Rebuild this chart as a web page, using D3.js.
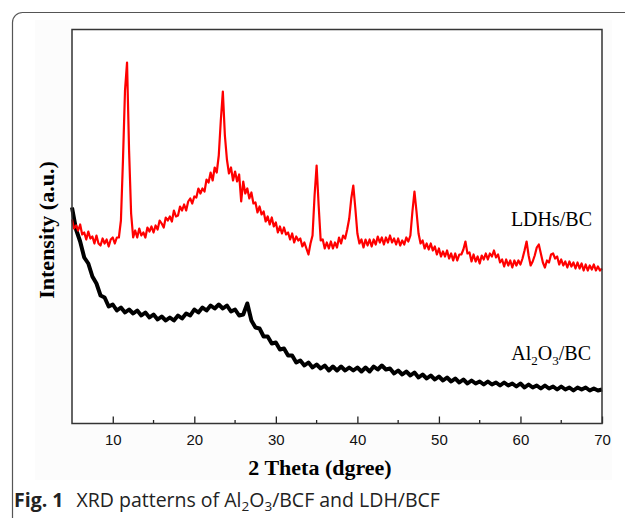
<!DOCTYPE html>
<html>
<head>
<meta charset="utf-8">
<script src="https://cdn.jsdelivr.net/npm/d3@7"></script>
<style>
  body { margin: 0; background: #fff; }
  svg { display: block; }
</style>
</head>
<body>
<div class="canvas"></div>
<script>
// scan grids (2 theta, degrees)
const ldhStart = 5;
const ldhStep = 0.25;
const alStart = 5;
const alStep = 0.5;

// LDHs/BC intensity (a.u.), one value every 0.25 deg from 5 to 70
const ldhIntensity = [
  204, 195, 198, 193, 199, 189, 191, 184, 192, 185, 187, 180, 188, 180, 178, 185,
  180, 184, 177, 184, 186, 180, 186, 186, 203, 263, 333, 361, 273, 210, 186, 193,
  186, 195, 188, 191, 186, 196, 192, 197, 191, 198, 194, 203, 200, 196, 206, 203,
  207, 202, 213, 207, 208, 217, 213, 219, 213, 222, 225, 220, 227, 226, 235, 230,
  235, 232, 244, 241, 251, 243, 256, 251, 268, 303, 332, 288, 264, 250, 256, 243,
  252, 242, 249, 222, 242, 230, 235, 225, 231, 220, 221, 211, 217, 209, 212, 202,
  207, 199, 206, 197, 201, 191, 197, 190, 196, 189, 191, 184, 190, 181, 187, 183,
  185, 177, 181, 175, 169, 180, 188, 228, 258, 218, 183, 184, 175, 181, 175, 182,
  175, 181, 176, 186, 180, 188, 185, 194, 205, 225, 238, 215, 190, 180, 184, 176,
  184, 178, 184, 177, 184, 179, 187, 181, 186, 179, 186, 181, 188, 181, 185, 179,
  185, 178, 183, 179, 186, 182, 188, 212, 232, 212, 190, 180, 183, 175, 180, 174,
  180, 173, 177, 169, 175, 167, 172, 167, 173, 165, 170, 163, 170, 163, 169, 169,
  174, 182, 170, 171, 162, 169, 162, 167, 160, 168, 164, 170, 164, 170, 167, 173,
  166, 169, 161, 164, 157, 164, 158, 163, 156, 163, 158, 163, 159, 165, 173, 182,
  168, 158, 162, 168, 176, 179, 170, 161, 156, 163, 161, 169, 170, 165, 167, 159,
  164, 158, 162, 156, 162, 157, 161, 155, 161, 155, 160, 153, 159, 153, 158, 154,
  159, 153, 157, 153, 155
];

// Al2O3/BC intensity (a.u.), one value every 0.5 deg from 5 to 70
const alIntensity = [
  216, 194, 182, 166, 160, 147, 140, 128, 126, 117, 119, 113, 116, 111, 114, 110,
  113, 108, 111, 106, 109, 104, 107, 103, 106, 103, 108, 105, 110, 108, 114, 111,
  116, 113, 118, 115, 119, 115, 118, 112, 114, 108, 109, 120, 103, 96, 95, 87,
  87, 80, 81, 74, 75, 68, 68, 61, 63, 58, 61, 56, 59, 55, 58, 53,
  57, 53, 57, 53, 56, 53, 56, 52, 56, 52, 57, 54, 58, 54, 55, 50,
  53, 49, 52, 48, 51, 46, 49, 45, 48, 44, 47, 43, 46, 42, 45, 41,
  44, 40, 43, 40, 42, 39, 42, 39, 41, 38, 41, 38, 40, 37, 40, 36,
  39, 36, 38, 35, 38, 35, 37, 34, 37, 34, 36, 33, 36, 34, 36, 33,
  35, 33, 34
];

const xTicks = [10, 20, 30, 40, 50, 60, 70];
const xMinorTicks = [15, 25, 35, 45, 55, 65];

const ldhData = ldhIntensity.map((v, i) => ({ theta: ldhStart + i * ldhStep, value: v }));
const alData = alIntensity.map((v, i) => ({ theta: alStart + i * alStep, value: v }));

const dimension = { width: 625, height: 518 };
const plot = { left: 72, right: 602, top: 29.5, bottom: 423.5 };

const svg = d3
  .select('.canvas')
  .append('svg')
  .attr('width', dimension.width)
  .attr('height', dimension.height);

// faint figure panel and outer rounded frame
svg
  .append('rect')
  .attr('x', 35)
  .attr('y', 20)
  .attr('width', 577)
  .attr('height', 460)
  .attr('fill', '#fcfcfc');

svg
  .append('path')
  .attr('d', 'M12.5,520 V22.5 A10,10 0 0 1 22.5,12.5 H630')
  .attr('fill', 'none')
  .attr('stroke', '#555')
  .attr('stroke-width', 1.2);

const x = d3.scaleLinear().domain([5, 70]).range([plot.left, plot.right]);
const y = d3.scaleLinear().domain([0, 394]).range([plot.bottom, plot.top]);

// plot area
svg
  .append('rect')
  .attr('x', plot.left)
  .attr('y', plot.top)
  .attr('width', plot.right - plot.left)
  .attr('height', plot.bottom - plot.top)
  .attr('fill', '#fff');

const line = d3
  .line()
  .x(d => x(d.theta))
  .y(d => y(d.value));

svg
  .append('path')
  .datum(alData)
  .attr('d', line)
  .attr('fill', 'none')
  .attr('stroke', '#000')
  .attr('stroke-width', 4)
  .attr('stroke-linejoin', 'round');

svg
  .append('path')
  .datum(ldhData)
  .attr('d', line)
  .attr('fill', 'none')
  .attr('stroke', '#ff0000')
  .attr('stroke-width', 2.2)
  .attr('stroke-linejoin', 'round');

// axes
const xAxis = d3
  .axisBottom(x)
  .tickValues(xTicks)
  .tickSizeInner(-7)
  .tickSizeOuter(0)
  .tickPadding(11);

const gx = svg
  .append('g')
  .attr('transform', `translate(0, ${plot.bottom})`)
  .call(xAxis);

gx.select('.domain').remove();
gx.selectAll('line').attr('stroke', '#222').attr('stroke-width', 1.3);
gx.selectAll('text')
  .attr('fill', '#111')
  .style('font-family', '"Liberation Sans", Arial, sans-serif')
  .style('font-size', '15px');

svg
  .append('g')
  .selectAll('line')
  .data(xMinorTicks)
  .enter()
  .append('line')
  .attr('x1', d => x(d))
  .attr('x2', d => x(d))
  .attr('y1', plot.bottom)
  .attr('y2', plot.bottom - 3.5)
  .attr('stroke', '#222')
  .attr('stroke-width', 1.3);

// frame
svg
  .append('rect')
  .attr('x', plot.left)
  .attr('y', plot.top)
  .attr('width', plot.right - plot.left)
  .attr('height', plot.bottom - plot.top)
  .attr('fill', 'none')
  .attr('stroke', '#333')
  .attr('stroke-width', 1.5);

// axis titles
const serif = '"Liberation Serif", "Times New Roman", serif';

svg
  .append('text')
  .attr('x', 320)
  .attr('y', 475)
  .attr('text-anchor', 'middle')
  .style('font-family', serif)
  .style('font-weight', 'bold')
  .style('font-size', '22px')
  .text('2 Theta (dgree)');

svg
  .append('text')
  .attr('transform', 'translate(54, 230) rotate(-90)')
  .attr('text-anchor', 'middle')
  .style('font-family', serif)
  .style('font-weight', 'bold')
  .style('font-size', '22px')
  .text('Intensity (a.u.)');

// series labels
svg
  .append('text')
  .attr('x', 592)
  .attr('y', 226)
  .attr('text-anchor', 'end')
  .style('font-family', serif)
  .style('font-size', '20px')
  .text('LDHs/BC');

const alLabel = svg
  .append('text')
  .attr('x', 591)
  .attr('y', 360)
  .attr('text-anchor', 'end')
  .style('font-family', serif)
  .style('font-size', '20px');
alLabel.append('tspan').text('Al');
alLabel.append('tspan').attr('dy', 5).style('font-size', '13px').text('2');
alLabel.append('tspan').attr('dy', -5).text('O');
alLabel.append('tspan').attr('dy', 5).style('font-size', '13px').text('3');
alLabel.append('tspan').attr('dy', -5).text('/BC');

// caption
const caption = svg
  .append('text')
  .attr('x', 14)
  .attr('y', 507)
  .style('font-family', '"Open Sans", "Noto Sans", sans-serif')
  .style('font-size', '19.5px')
  .attr('fill', '#222');
caption.append('tspan').style('font-weight', 'bold').text('Fig. 1');
caption.append('tspan').attr('dx', 13).text('XRD patterns of Al');
caption.append('tspan').attr('dy', 4).style('font-size', '13.5px').text('2');
caption.append('tspan').attr('dy', -4).text('O');
caption.append('tspan').attr('dy', 4).style('font-size', '13.5px').text('3');
caption.append('tspan').attr('dy', -4).text('/BCF and LDH/BCF');
</script>
</body>
</html>
